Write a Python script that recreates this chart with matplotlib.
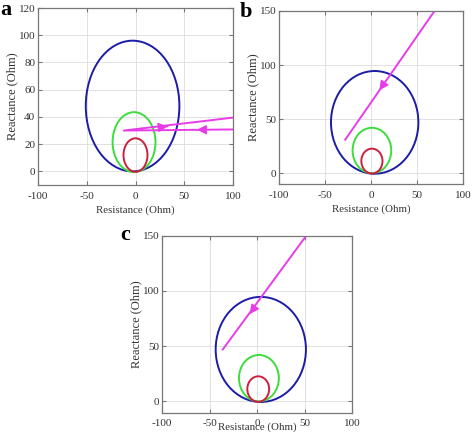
import matplotlib
matplotlib.use("Agg")
import matplotlib.pyplot as plt
from matplotlib.patches import Ellipse

plt.rcParams['font.family'] = ['Liberation Serif', 'DejaVu Serif']
plt.rcParams['axes.unicode_minus'] = False

# ---- data ----
# circle characteristics (center R, center X, radius) per panel: blue, green, red
circ_a = {"cx": [-3, -1.5, 0], "cy": [48, 21.5, 12], "r": [48, 22, 12.3]}
circ_b = {"cx": [4, 1, 1], "cy": [47, 21, 11.2], "r": [47.5, 21, 11.5]}
circ_c = {"cx": [4, 2, 1.3], "cy": [47, 21, 11.2], "r": [47.5, 21, 11.5]}
circ_colors = ['#1c1ca8', '#3ddc3d', '#cc2040']

# impedance trajectories
traj_a_x = [100, -12, 100]
traj_a_y = [30.8, 30.0, 39.5]
traj_b_x = [69, -28]
traj_b_y = [150, 31]
traj_c_x = [52, -36]
traj_c_y = [150, 47]

# arrow positions (x, y, dx, dy direction)
arrows_a = [(63, 30.6, -1, 0), (33, 33.0, 1, 0.0765)]
arrows_b = [(11, 79, -97, -119)]
arrows_c = [(-6, 81, -88, -103)]

xticks = [-100, -50, 0, 50, 100]
yticks_a = [0, 20, 40, 60, 80, 100, 120]
yticks_bc = [0, 50, 100, 150]

fig = plt.figure(figsize=(4.72, 4.38), dpi=100)

axes_rects = [
    [38/472, 1-185/438, 195/472, 177/438],
    [279/472, 1-184/438, 184/472, 173/438],
    [162/472, 1-412.5/438, 190/472, 177/438],
]
circs = [circ_a, circ_b, circ_c]
trajs = [(traj_a_x, traj_a_y), (traj_b_x, traj_b_y), (traj_c_x, traj_c_y)]
arrows = [arrows_a, arrows_b, arrows_c]
yticks_all = [yticks_a, yticks_bc, yticks_bc]
ylims = [(-10, 120), (-10, 150), (-10, 150)]
labels = ['a', 'b', 'c']
label_pos = [(0.0, 0.955), (0.508, 0.95), (0.254, 0.44)]
xlabelpads = [3, 3, -4]

magenta = '#e83ce8'
for i in range(3):
    ax = fig.add_axes(axes_rects[i])
    ax.set_xlim(-100, 100)
    ax.set_ylim(*ylims[i])
    ax.set_xticks(xticks)
    ax.set_yticks(yticks_all[i])
    ax.grid(True, color='#dcdcdc', linestyle='-', linewidth=0.6)
    ax.set_axisbelow(True)
    for s in ax.spines.values():
        s.set_color('#777777')
        s.set_linewidth(0.9)
    ax.tick_params(direction='in', top=True, right=True, length=3,
                   color='#777777', labelsize=8, labelcolor='#333333')
    ax.tick_params(axis='y', pad=2)
    ax.tick_params(axis='x', pad=5)
    ax.set_xlabel('Resistance (Ohm)', fontsize=7.8, color='#333333',
                  labelpad=xlabelpads[i])
    ax.set_ylabel('Reactance (Ohm)', fontsize=9, color='#333333', labelpad=0)
    c = circs[i]
    for cx, cy, r, col in zip(c["cx"], c["cy"], c["r"], circ_colors):
        ax.add_patch(Ellipse((cx, cy), 2*r, 2*r, fill=False, edgecolor=col, linewidth=1.4))
    tx, ty = trajs[i]
    ax.plot(tx, ty, color=magenta, linewidth=1.4, clip_on=True)
    for (x, y, dx, dy) in arrows[i]:
        ax.annotate('', xy=(x + dx*0.02, y + dy*0.02), xytext=(x, y),
                    arrowprops=dict(arrowstyle='-|>', color=magenta,
                                    mutation_scale=14, linewidth=1.0,
                                    shrinkA=0, shrinkB=0))
    fig.text(label_pos[i][0], label_pos[i][1], labels[i], fontsize=16,
             fontweight='bold', ha='left', va='bottom')

fig.savefig('out.png', dpi=100)
